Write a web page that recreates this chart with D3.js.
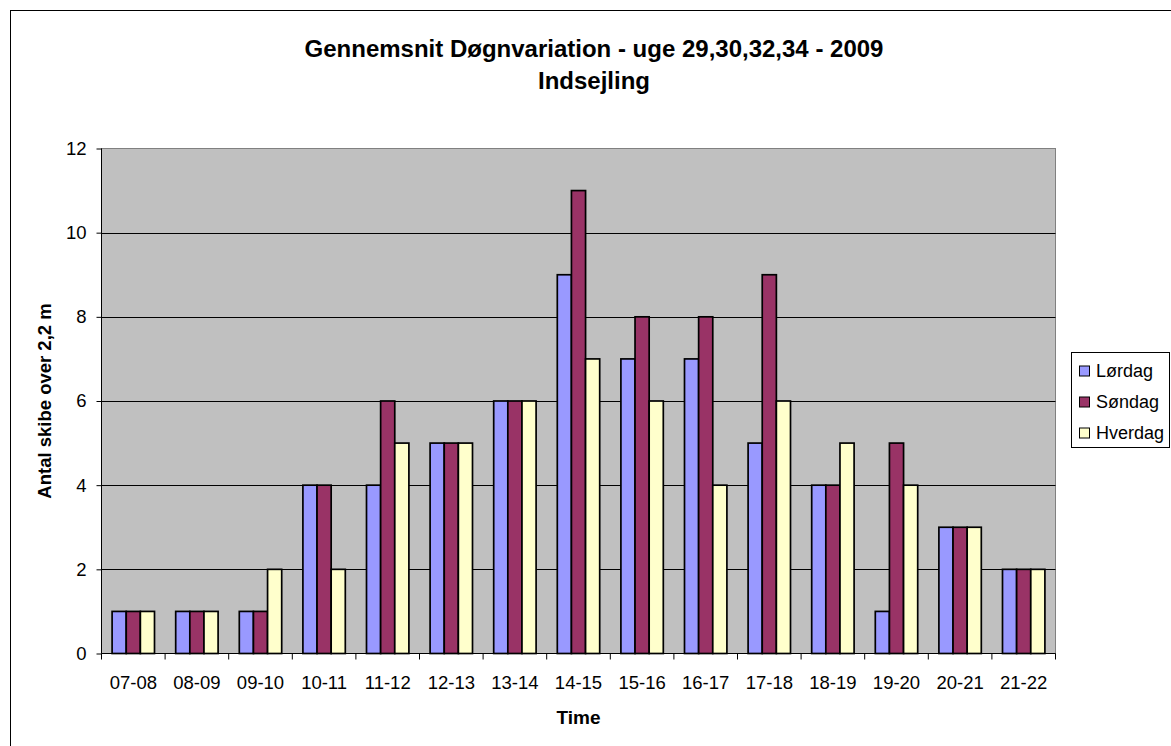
<!DOCTYPE html>
<html>
<head>
<meta charset="utf-8">
<script src="https://cdn.jsdelivr.net/npm/d3@7"></script>
<style>
  body { margin: 0; background: #fff; }
  svg { display: block; font-family: "Liberation Sans", Arial, sans-serif; }
</style>
</head>
<body>
<svg id="chart" width="1171" height="746"></svg>
<script>
// data
var timer = ["07-08","08-09","09-10","10-11","11-12","12-13","13-14","14-15","15-16","16-17","17-18","18-19","19-20","20-21","21-22"];
var serier = ["Lørdag","Søndag","Hverdag"];
var lordag  = [1,1,1,4,4,5,6,9,7,7,5,4,1,3,2];
var sondag  = [1,1,1,4,6,5,6,11,8,8,9,4,5,3,2];
var hverdag = [1,1,2,2,5,5,6,7,6,4,6,5,4,3,2];
var yTicks = [0,2,4,6,8,10,12];
var farver = ["#9999ff","#993366","#ffffcc"];

var vaerdier = [lordag, sondag, hverdag];

var svg = d3.select("#chart");

// outer chart frame
svg.append("rect")
    .attr("x", 10.5).attr("y", 10.5)
    .attr("width", 1200).attr("height", 800)
    .attr("fill", "#fff").attr("stroke", "#000").attr("stroke-width", 1);

var pLeft = 101.5, pRight = 1055.5, pTop = 148.5, pBottom = 653.5;

var xScale = d3.scaleBand()
    .domain(timer)
    .range([pLeft, pRight]);

var inner = d3.scaleBand()
    .domain(serier)
    .range([0, xScale.bandwidth()])
    .paddingOuter(0.75)
    .paddingInner(0);

var yScale = d3.scaleLinear()
    .domain([0, 12])
    .range([pBottom, pTop]);

// plot area
svg.append("rect")
    .attr("x", pLeft).attr("y", pTop)
    .attr("width", pRight - pLeft).attr("height", pBottom - pTop)
    .attr("fill", "#c0c0c0").attr("stroke", "#808080");

// grid
svg.append("g").selectAll("line")
    .data(yTicks.filter(function(d){ return d > 0 && d < 12; }))
    .enter().append("line")
    .attr("x1", pLeft).attr("x2", pRight)
    .attr("y1", function(d){ return Math.round(yScale(d)) + 0.5; })
    .attr("y2", function(d){ return Math.round(yScale(d)) + 0.5; })
    .attr("stroke", "#000");

// bars
var grupper = svg.append("g").selectAll("g")
    .data(timer)
    .enter().append("g")
    .attr("transform", function(d){ return "translate(" + xScale(d) + ",0)"; });

grupper.selectAll("rect")
    .data(function(d, i){ return serier.map(function(s, j){ return {serie: s, v: vaerdier[j][i], j: j}; }); })
    .enter().append("rect")
    .attr("x", function(d){ return inner(d.serie); })
    .attr("y", function(d){ return yScale(d.v); })
    .attr("width", inner.bandwidth())
    .attr("height", function(d){ return yScale(0) - yScale(d.v); })
    .attr("fill", function(d){ return farver[d.j]; })
    .attr("stroke", "#000").attr("stroke-width", 1.7);

// y axis
var yAxis = svg.append("g")
    .attr("transform", "translate(" + pLeft + ",0)")
    .call(d3.axisLeft(yScale).tickValues(yTicks).tickSize(5).tickPadding(10));
yAxis.selectAll("text").attr("font-size", 18.5).attr("fill", "#000").style("font-family", "Liberation Sans, Arial, sans-serif");
yAxis.select(".domain").attr("d", "M0," + pTop + "V" + pBottom).attr("stroke", "#000");

// x axis
var xAxis = svg.append("g")
    .attr("transform", "translate(0," + pBottom + ")")
    .call(d3.axisBottom(xScale).tickSize(0).tickPadding(22));
xAxis.selectAll("text").attr("font-size", 18.5).attr("fill", "#000").style("font-family", "Liberation Sans, Arial, sans-serif");
xAxis.select(".domain").attr("d", "M" + pLeft + ",0H" + pRight).attr("stroke", "#000");
xAxis.selectAll(".skel")
    .data(d3.range(timer.length + 1))
    .enter().append("line")
    .attr("x1", function(i){ return pLeft + i * xScale.step(); })
    .attr("x2", function(i){ return pLeft + i * xScale.step(); })
    .attr("y1", 0).attr("y2", 6)
    .attr("stroke", "#000");

// titles
svg.append("text")
    .attr("x", 594).attr("y", 57)
    .attr("text-anchor", "middle").attr("font-size", 24).attr("font-weight", "bold")
    .text("Gennemsnit Døgnvariation - uge 29,30,32,34 - 2009");
svg.append("text")
    .attr("x", 594).attr("y", 89)
    .attr("text-anchor", "middle").attr("font-size", 24).attr("font-weight", "bold")
    .text("Indsejling");

svg.append("text")
    .attr("x", (pLeft + pRight) / 2).attr("y", 724)
    .attr("text-anchor", "middle").attr("font-size", 19).attr("font-weight", "bold")
    .text("Time");

svg.append("text")
    .attr("transform", "translate(51," + ((pTop + pBottom) / 2) + ") rotate(-90)")
    .attr("text-anchor", "middle").attr("font-size", 18.5).attr("font-weight", "bold")
    .text("Antal skibe over 2,2 m");

// legend
var legend = svg.append("g");
legend.append("rect")
    .attr("x", 1071.5).attr("y", 352.5).attr("width", 98).attr("height", 95)
    .attr("fill", "#fff").attr("stroke", "#000");

var items = legend.selectAll(".item")
    .data(serier)
    .enter().append("g")
    .attr("transform", function(d, i){ return "translate(1079," + (365.5 + i * 31) + ")"; });
items.append("rect")
    .attr("x", 0.5).attr("y", 0.5).attr("width", 10).attr("height", 10)
    .attr("fill", function(d, i){ return farver[i]; })
    .attr("stroke", "#000");
items.append("text")
    .attr("x", 17).attr("y", 11)
    .attr("font-size", 18)
    .text(function(d){ return d; });
</script>
</body>
</html>
